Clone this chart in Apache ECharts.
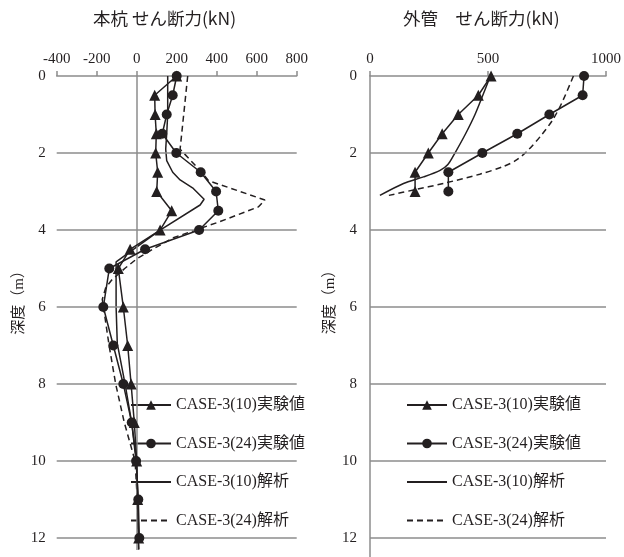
<!DOCTYPE html>
<html>
<head>
<meta charset="utf-8">
<script src="https://cdn.jsdelivr.net/npm/echarts@6/dist/echarts.min.js"></script>
<style>
  html, body { margin: 0; padding: 0; background: #fff; }
  #chart { width: 624px; height: 557px; }
</style>
</head>
<body>
<div id="chart"></div>
<script>
// ---- 本杭 せん断力 (kN) vs 深度 (m) ----
const pileExpDepth = [0, 0.5, 1, 1.5, 2, 2.5, 3, 3.5, 4, 4.5, 5, 6, 7, 8, 9, 10, 11, 12];
const pileCase10Exp = [200, 90, 92, 98, 95, 105, 100, 175, 117, -33, -92, -67, -45, -28, -12, 0, 5, 10];
const pileCase24Exp = [200, 180, 150, 128, 198, 320, 397, 408, 312, 42, -137, -167, -117, -67, -25, -3, 8, 13];

const pileCase10AnaDepth = [0, 1, 1.5, 1.9, 2.2, 2.5, 2.7, 2.92, 3.2, 3.35, 4, 4.83, 6, 6.95, 8, 9, 10, 11, 12, 12.3];
const pileCase10Ana = [155, 155, 150, 145, 150, 180, 217, 283, 337, 317, 117, -103, -103, -97, -58, -25, 0, 5, 8, 10];

const pileCase24AnaDepth = [0, 1.9, 2.5, 2.72, 3.22, 3.4, 3.78, 4.2, 4.5, 4.75, 5, 5.3, 5.5, 5.8, 7, 8, 9, 10, 11, 12, 12.3];
const pileCase24Ana = [255, 217, 325, 360, 641, 608, 417, 183, 80, 0, -60, -125, -155, -172, -138, -105, -62, -8, 3, 8, 10];

// ---- 外管 せん断力 (kN) vs 深度 (m) ----
const tubeExpDepth = [0, 0.5, 1, 1.5, 2, 2.5, 3];
const tubeCase10Exp = [513, 459, 374, 306, 247, 191, 191];
const tubeCase24Exp = [907, 901, 760, 624, 476, 332, 332];

const tubeCase10AnaDepth = [0, 0.5, 1, 1.5, 2, 2.3, 2.45, 2.62, 2.79, 3.1];
const tubeCase10Ana = [510, 478, 445, 405, 360, 330, 297, 227, 142, 42];

const tubeCase24AnaDepth = [0, 0.71, 1.14, 1.53, 1.92, 2.18, 2.35, 2.55, 2.79, 2.96, 3.1];
const tubeCase24Ana = [862, 812, 774, 727, 671, 621, 565, 465, 311, 184, 80];

// depth grid lines
const depthGridLines = [2, 4, 6, 8, 10, 12];

const seriesNames = ['CASE-3(10)実験値', 'CASE-3(24)実験値', 'CASE-3(10)解析', 'CASE-3(24)解析'];

const INK = '#231f20';
const GRAY = '#8c8c8c';
const SERIF = "'Liberation Serif', 'Noto Sans CJK JP', serif";
const SANS = "'Noto Sans CJK JP', 'Noto Sans', sans-serif";

function pairs(values, depths) {
  return values.map((v, i) => [v, depths[i]]);
}

function expSeries(name, idx, values, depths, symbol, size) {
  return {
    name, type: 'line', xAxisIndex: idx, yAxisIndex: idx,
    data: pairs(values, depths),
    symbol, symbolSize: size, showSymbol: true,
    lineStyle: { color: INK, width: 1.5 },
    itemStyle: { color: INK },
    z: 5
  };
}

function anaSeries(name, idx, values, depths, dashed, smooth) {
  return {
    name, type: 'line', xAxisIndex: idx, yAxisIndex: idx,
    data: pairs(values, depths),
    symbol: 'none', smooth: smooth,
    lineStyle: { color: INK, width: 1.5, type: dashed ? [6, 4] : 'solid' },
    itemStyle: { color: INK, opacity: 0 },
    z: 4
  };
}

function gridLineSeries(idx, withZero) {
  const lines = depthGridLines.map(d => ({ yAxis: d }));
  if (withZero) lines.push({ xAxis: 0 });
  return {
    type: 'line', xAxisIndex: idx, yAxisIndex: idx, data: [],
    silent: true, z: 1,
    markLine: {
      silent: true, symbol: ['none', 'none'], label: { show: false },
      lineStyle: { color: GRAY, width: 1.5, type: 'solid' },
      emphasis: { disabled: true },
      data: lines
    }
  };
}

function legendAt(left, top) {
  return {
    data: seriesNames.map((n, i) => (i < 2 ? { name: n } : { name: n, itemStyle: { opacity: 0 } })),
    orient: 'vertical', left, top, padding: 0,
    itemWidth: 40, itemHeight: 12, itemGap: 20.5,
    selectedMode: false,
    textStyle: { fontFamily: SERIF, fontSize: 16, color: INK, lineHeight: 18 }
  };
}

const axisLabelStyle = { fontFamily: SERIF, fontSize: 15, color: INK };
const plainNumber = v => String(v);
const evenDepth = v => (v % 2 === 0 ? String(v) : '');

const chart = echarts.init(document.getElementById('chart'), null, { renderer: 'canvas' });
chart.setOption({
  animation: false,
  backgroundColor: '#fff',
  graphic: [
    { type: 'text', left: 93, top: 10, style: { text: '本杭 せん断力(kN)', font: '17.5px ' + SANS, fill: INK } },
    { type: 'text', left: 403, top: 10, style: { text: '外管　せん断力(kN)', font: '17.5px ' + SANS, fill: INK } }
  ],
  grid: [
    { left: 56.7, right: 327.3, top: 76, bottom: 7 },
    { left: 370, right: 18, top: 76, bottom: 0 }
  ],
  xAxis: [
    {
      gridIndex: 0, type: 'value', position: 'top', min: -400, max: 800, interval: 200,
      axisLine: { show: true, lineStyle: { color: GRAY, width: 1.5 } },
      axisTick: { show: true, length: 5, lineStyle: { color: GRAY, width: 1.5 } },
      axisLabel: Object.assign({ margin: 9, formatter: plainNumber }, axisLabelStyle),
      splitLine: { show: false }
    },
    {
      gridIndex: 1, type: 'value', position: 'top', min: 0, max: 1000, interval: 500,
      axisLine: { show: true, lineStyle: { color: GRAY, width: 1.5 } },
      axisTick: { show: true, length: 5, lineStyle: { color: GRAY, width: 1.5 } },
      axisLabel: Object.assign({ margin: 9, formatter: plainNumber }, axisLabelStyle),
      splitLine: { show: false }
    }
  ],
  yAxis: [
    {
      gridIndex: 0, type: 'value', inverse: true, min: 0, max: 12.31, interval: 2,
      axisLine: { show: false }, axisTick: { show: false }, splitLine: { show: false },
      axisLabel: Object.assign({ margin: 11, showMaxLabel: false, formatter: evenDepth }, axisLabelStyle),
      name: '深度（m）', nameLocation: 'middle', nameRotate: 90, nameGap: 30,
      nameTextStyle: { fontFamily: SERIF, fontSize: 15, color: INK, padding: [0, 0, 0, 28] }
    },
    {
      gridIndex: 1, type: 'value', inverse: true, min: 0, max: 12.49, interval: 2,
      axisLine: { show: true, lineStyle: { color: GRAY, width: 1.5 } },
      axisTick: { show: false }, splitLine: { show: false },
      axisLabel: Object.assign({ margin: 13, showMaxLabel: false, formatter: evenDepth }, axisLabelStyle),
      name: '深度（m）', nameLocation: 'middle', nameRotate: 90, nameGap: 32,
      nameTextStyle: { fontFamily: SERIF, fontSize: 15, color: INK, padding: [0, 0, 0, 36] }
    }
  ],
  legend: [legendAt(130, 396), legendAt(406, 396)],
  series: [
    gridLineSeries(0, true),
    gridLineSeries(1, false),
    anaSeries(seriesNames[2], 0, pileCase10Ana, pileCase10AnaDepth, false, false),
    anaSeries(seriesNames[3], 0, pileCase24Ana, pileCase24AnaDepth, true, false),
    expSeries(seriesNames[0], 0, pileCase10Exp, pileExpDepth, 'triangle', 11),
    expSeries(seriesNames[1], 0, pileCase24Exp, pileExpDepth, 'circle', 10),
    anaSeries(seriesNames[2], 1, tubeCase10Ana, tubeCase10AnaDepth, false, 0.3),
    anaSeries(seriesNames[3], 1, tubeCase24Ana, tubeCase24AnaDepth, true, 0.3),
    expSeries(seriesNames[0], 1, tubeCase10Exp, tubeExpDepth, 'triangle', 11),
    expSeries(seriesNames[1], 1, tubeCase24Exp, tubeExpDepth, 'circle', 10)
  ]
});
</script>
</body>
</html>
